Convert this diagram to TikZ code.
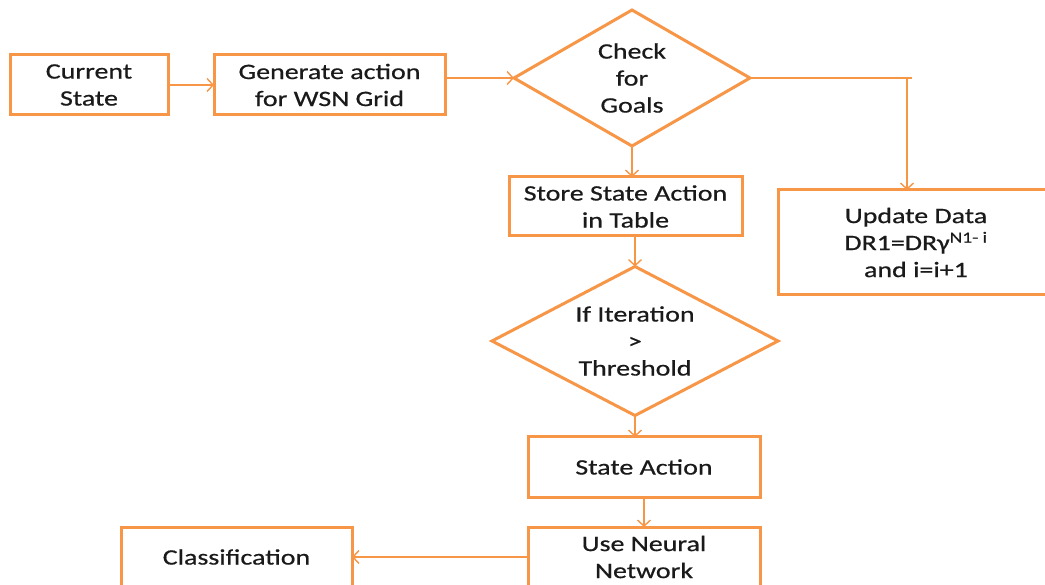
\documentclass[tikz,border=0pt]{standalone}
\usepackage{fontspec}
\setmainfont{Carlito}[FakeStretch=1.27,FakeBold=0.6]
\usetikzlibrary{shapes.geometric,arrows.meta}
\definecolor{lineorange}{HTML}{F79646}
\definecolor{txt}{HTML}{1A1A1A}
\tikzset{
  boxnode/.style={draw=lineorange, line width=3pt, rectangle, outer sep=0pt, inner sep=0pt, align=center, text=txt},
  decision/.style={draw=lineorange, line width=3pt, diamond, outer sep=0pt, inner sep=0pt},
  dtext/.style={align=center, text=txt, inner sep=0pt},
  conn/.style={draw=lineorange, line width=1.4pt, -{Straight Barb[length=6pt,width=13pt]}},
  plainconn/.style={draw=lineorange, line width=1.4pt}
}
\begin{document}
\begin{tikzpicture}[x=1pt,y=-1pt, font=\fontsize{22}{27}\selectfont]
\useasboundingbox (0,0) rectangle (1045,585);
\clip (0,0) rectangle (1045,585);
\fill[white] (0,0) rectangle (1045,585);

\node[boxnode, minimum width=158pt, minimum height=60pt] (cur) at (89,85) {Current\\State};
\node[boxnode, minimum width=231pt, minimum height=60pt] (gen) at (329.5,85) {Generate action\\for WSN Grid};
\node[decision, minimum width=236pt, minimum height=136pt] (chk) at (632,78) {};
\node[dtext] (chkt) at (632,78) {Check\\for\\Goals};
\node[boxnode, minimum width=233pt, minimum height=59pt] (store) at (625.5,206.5) {Store State Action\\in Table};
\node[boxnode, minimum width=276pt, minimum height=105pt] (upd) at (916,242.5) {Update Data\\DR1=DRγ\textsuperscript{N1- i}\\and i=i+1};
\node[decision, minimum width=286pt, minimum height=149pt] (iter) at (635,341) {};
\node[dtext] (itert) at (635,341) {If Iteration\\>\\Threshold};
\node[boxnode, minimum width=232pt, minimum height=60pt] (sa) at (644,467) {State Action};
\node[boxnode, minimum width=232pt, minimum height=60pt] (nn) at (644,557) {Use Neural\\Network};
\node[boxnode, minimum width=231pt, minimum height=60pt] (cls) at (236.5,557) {Classification};

\draw[conn] (cur.east) -- (gen.west);
\draw[conn] (gen.east |- chk.west) -- (chk.west);
\draw[conn] (chk.south) -- (chk.south |- store.north);
\draw[plainconn] (chk.east) -- ([xshift=-4pt]upd.north |- chk.east);
\draw[conn] ([xshift=-9pt]upd.north |- chk.east) -- ([xshift=-9pt]upd.north);
\draw[conn] (iter.north |- store.south) -- (iter.north);
\draw[conn] (iter.south) -- (iter.south |- sa.north);
\draw[conn] (sa.south) -- (nn.north);
\draw[conn] (nn.west) -- (cls.east);
\end{tikzpicture}
\end{document}
